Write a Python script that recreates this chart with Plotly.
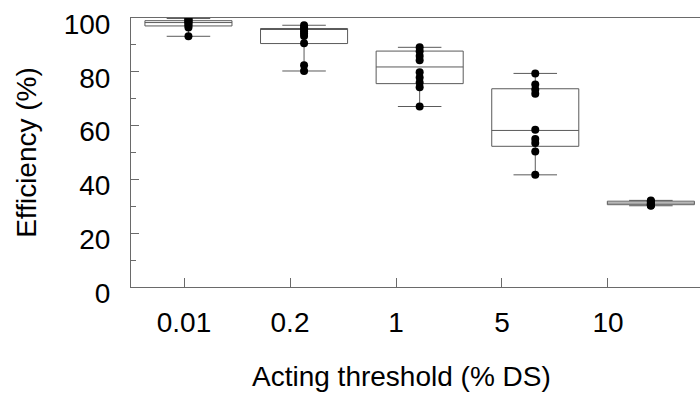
import plotly.graph_objects as go

# ---- data ----
thresholds = ["0.01", "0.2", "1", "5", "10"]

points_001 = [99.8, 99.4, 99.0, 98.7, 98.3, 97.8, 97.2, 96.5, 93.2]
points_02 = [97.3, 96.5, 95.8, 95.0, 94.2, 93.3, 90.6, 82.4, 80.3]
points_1 = [89.1, 87.6, 85.9, 84.3, 79.8, 77.9, 76.0, 74.3, 67.1]
points_5 = [79.4, 75.3, 73.4, 71.8, 58.5, 55.0, 53.5, 50.4, 41.7]
points_10 = [32.2, 31.9, 31.6, 31.3, 31.0, 30.8, 30.6, 30.4, 30.2]

box_q1 = [97.05, 90.5, 75.6, 52.3, 30.6]
box_median = [98.3, 95.8, 81.8, 58.2, 31.2]
box_q3 = [99.0, 96.1, 87.7, 73.7, 31.9]

all_points = [points_001, points_02, points_1, points_5, points_10]

FONT = "Liberation Sans, Arial, Helvetica, sans-serif"
LINE = "#5a5a5a"
AX = "#6a6a6a"

fig = go.Figure()

# invisible trace to anchor the labelled category axis
fig.add_trace(go.Scatter(x=thresholds, y=[None] * len(thresholds), mode="markers",
                         showlegend=False, hoverinfo="skip", xaxis="x", yaxis="y"))

fig.add_trace(go.Box(
    x=thresholds,
    q1=box_q1, median=box_median, q3=box_q3,
    lowerfence=[min(p) for p in all_points],
    upperfence=[max(p) for p in all_points],
    width=0.753, whiskerwidth=0.5,
    line=dict(color=LINE, width=1),
    fillcolor="rgba(0,0,0,0)",
    boxpoints=False, showlegend=False,
    xaxis="x2", yaxis="y",
))

px, py = [], []
for lab, pts in zip(thresholds, all_points):
    px += [lab] * len(pts)
    py += pts
fig.add_trace(go.Scatter(x=px, y=py, mode="markers",
                         marker=dict(color="black", size=8),
                         showlegend=False, xaxis="x2", yaxis="y"))

fig.update_layout(
    width=700, height=394,
    margin=dict(l=131, r=0, t=18, b=107, pad=0),
    paper_bgcolor="white", plot_bgcolor="white",
    font=dict(family=FONT, size=28, color="black"),
    xaxis=dict(
        type="category", categoryorder="array", categoryarray=thresholds,
        range=[-0.5, 4.868], showgrid=False, zeroline=False,
        showline=True, linecolor=AX, linewidth=1, mirror=True,
        ticks="inside", ticklen=9, tickcolor=AX, tickwidth=1,
        tickfont=dict(family=FONT, size=28, color="black"),
        ticklabelstandoff=10,
    ),
    xaxis2=dict(
        type="category", categoryorder="array", categoryarray=thresholds,
        range=[-0.497, 4.425], overlaying="x", visible=False,
    ),
    yaxis=dict(
        range=[0, 100], tickvals=[0, 20, 40, 60, 80, 100],
        showgrid=False, zeroline=False,
        showline=True, linecolor=AX, linewidth=1,
        ticks="inside", ticklen=8, tickcolor=AX, tickwidth=1,
        minor=dict(dtick=10, ticks="inside", ticklen=5, tickcolor=AX, showgrid=False),
        tickfont=dict(family=FONT, size=28, color="black"),
        ticklabelstandoff=14, ticklabelshift=6,
        title=dict(text="Efficiency (%)", font=dict(family=FONT, size=28, color="black"), standoff=18),
    ),
)

fig.add_annotation(text="Acting threshold (% DS)", xref="paper", yref="paper",
                   x=(401.5 - 131) / (700 - 131), y=0, yshift=-72,
                   xanchor="center", yanchor="top", showarrow=False,
                   font=dict(family=FONT, size=28, color="black"))

fig.write_html("out.html")
